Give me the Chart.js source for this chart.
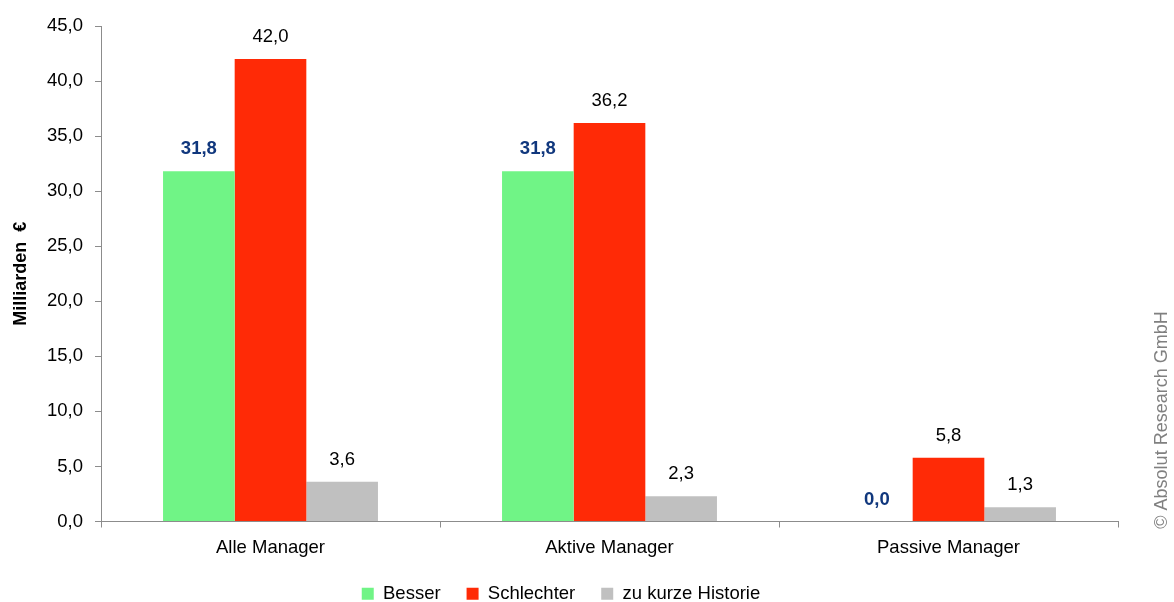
<!DOCTYPE html>
<html>
<head>
<meta charset="utf-8">
<script src="https://cdn.jsdelivr.net/npm/chart.js@4"></script>
<style>
  html, body { margin: 0; padding: 0; background: #fff; }
  #wrap { width: 1174px; height: 602px; }
</style>
</head>
<body>
<div id="wrap"><canvas id="chart"></canvas></div>
<script>
const categories = ["Alle Manager", "Aktive Manager", "Passive Manager"];
const besser = [31.8, 31.8, 0.0];
const schlechter = [42.0, 36.2, 5.8];
const zuKurz = [3.6, 2.3, 1.3];
const seriesNames = ["Besser", "Schlechter", "zu kurze Historie"];

const FONT = "'Liberation Sans', Arial, sans-serif";
const fmt = v => v.toFixed(1).replace(".", ",");

// value labels over the bars + copyright note
const labelPlugin = {
    id: "labels",
    afterDatasetsDraw(chart) {
        const ctx = chart.ctx;
        ctx.save();
        ctx.textAlign = "center";
        ctx.textBaseline = "middle";
        chart.data.datasets.forEach((ds, i) => {
            const meta = chart.getDatasetMeta(i);
            meta.data.forEach((bar, j) => {
                if (i === 0) {
                    ctx.font = "bold 18.5px " + FONT;
                    ctx.fillStyle = "#10377d";
                } else {
                    ctx.font = "18.5px " + FONT;
                    ctx.fillStyle = "#000";
                }
                ctx.fillText(fmt(ds.data[j]), bar.x, bar.y - 22);
            });
        });
        ctx.restore();

        ctx.save();
        ctx.translate(1162, 420);
        ctx.rotate(-Math.PI / 2);
        ctx.textAlign = "center";
        ctx.textBaseline = "middle";
        ctx.font = "18px " + FONT;
        ctx.fillStyle = "#808080";
        ctx.fillText("\u00A9 Absolut Research GmbH", 0, 0);
        ctx.restore();
    }
};

const data = {
    labels: categories,
    datasets: [
        { label: seriesNames[0], data: besser, backgroundColor: "#70f486" },
        { label: seriesNames[1], data: schlechter, backgroundColor: "#ff2a06" },
        { label: seriesNames[2], data: zuKurz, backgroundColor: "#c0c0c0" },
    ]
};

const config = {
    type: "bar",
    data: data,
    plugins: [labelPlugin],
    options: {
        responsive: true,
        maintainAspectRatio: false,
        animation: false,
        layout: { padding: { left: 4, right: 56, top: 26, bottom: -11 } },
        datasets: {
            bar: { categoryPercentage: 0.634, barPercentage: 1.0, borderWidth: 0 }
        },
        plugins: {
            legend: {
                position: "bottom",
                labels: {
                    boxWidth: 12,
                    boxHeight: 12,
                    padding: 26,
                    color: "#000",
                    font: { size: 18.5, family: FONT }
                }
            },
            tooltip: { enabled: false }
        },
        scales: {
            x: {
                offset: true,
                afterFit: s => { s.height = 37; },
                grid: { display: true, offset: true, drawOnChartArea: false, tickLength: 6, color: "#8c8c8c" },
                border: { color: "#8c8c8c" },
                ticks: {
                    color: "#000",
                    padding: 9,
                    font: { size: 18.5, family: FONT }
                }
            },
            y: {
                min: 0,
                max: 45,
                afterFit: s => { s.width = 97; },
                grid: { drawOnChartArea: false, tickLength: 6, color: "#8c8c8c" },
                border: { color: "#8c8c8c" },
                ticks: {
                    stepSize: 5,
                    color: "#000",
                    padding: 12,
                    font: { size: 18.5, family: FONT },
                    callback: v => fmt(v)
                },
                title: {
                    display: true,
                    text: "Milliarden  \u20AC",
                    color: "#000",
                    padding: { top: 6, bottom: 0 },
                    font: { size: 18, weight: "bold", family: FONT }
                }
            }
        }
    }
};

new Chart(document.getElementById("chart"), config);
</script>
</body>
</html>
